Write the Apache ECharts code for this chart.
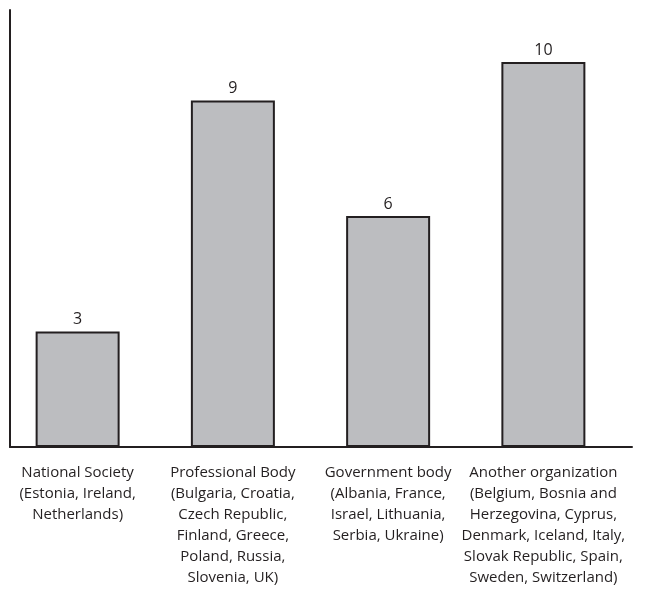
<!DOCTYPE html>
<html><head><meta charset="utf-8">
<script src="https://cdn.jsdelivr.net/npm/echarts@6/dist/echarts.min.js"></script>
<style>html,body{margin:0;padding:0;background:#fff}#c{width:653px;height:592px}</style>
</head><body><div id="c"></div>
<script>
const categories = [
  "National Society\n(Estonia, Ireland,\nNetherlands)",
  "Professional Body\n(Bulgaria, Croatia,\nCzech Republic,\nFinland, Greece,\nPoland, Russia,\nSlovenia, UK)",
  "Government body\n(Albania, France,\nIsrael, Lithuania,\nSerbia, Ukraine)",
  "Another organization\n(Belgium, Bosnia and\nHerzegovina, Cyprus,\nDenmark, Iceland, Italy,\nSlovak Republic, Spain,\nSweden, Switzerland)"
];
const counts = [3, 9, 6, 10];
const yMax = 11.35;

const font = "'Open Sans', 'Noto Sans', sans-serif";
const chart = echarts.init(document.getElementById('c'), null, {renderer: 'canvas'});
chart.setOption({
  animation: false,
  grid: [
    {left: 10, right: 21, top: 10, bottom: 145},
    {left: -4, width: 625, top: 10, bottom: 145}
  ],
  xAxis: [
    {gridIndex: 0, type: 'value', min: 0, max: 1,
     axisLine: {show: true, lineStyle: {color: '#231f20', width: 2}},
     axisTick: {show: false}, axisLabel: {show: false}, splitLine: {show: false}},
    {gridIndex: 1, type: 'category', data: categories,
     axisLine: {show: false}, axisTick: {show: false},
     axisLabel: {interval: 0, margin: 15, color: '#231f20', fontFamily: font, fontSize: 15, lineHeight: 21}}
  ],
  yAxis: [
    {gridIndex: 0, type: 'value', min: 0, max: yMax,
     axisLine: {show: true, lineStyle: {color: '#231f20', width: 2}},
     axisTick: {show: false}, axisLabel: {show: false}, splitLine: {show: false}},
    {gridIndex: 1, type: 'value', min: 0, max: yMax, show: false}
  ],
  series: [{
    type: 'bar', xAxisIndex: 1, yAxisIndex: 1, data: counts,
    barWidth: 84,
    itemStyle: {color: '#bcbdc0', borderColor: '#231f20', borderWidth: 2},
    label: {show: true, position: 'top', distance: 4, color: '#231f20', fontFamily: font, fontSize: 16}
  }]
});
</script></body></html>
